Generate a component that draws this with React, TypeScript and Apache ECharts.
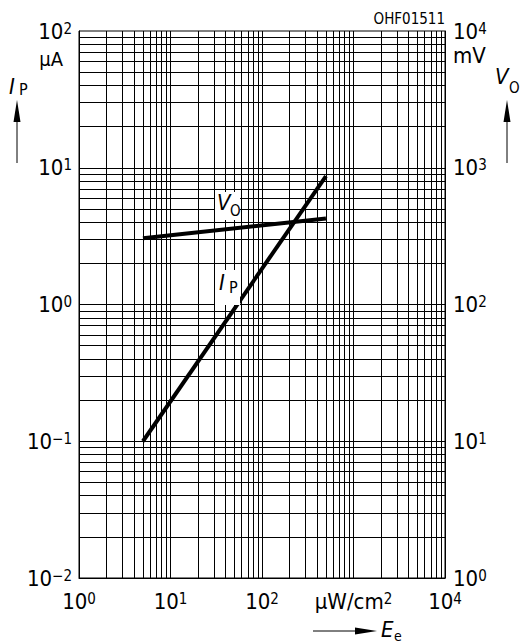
import React, { useEffect, useRef } from "react";
import * as echarts from "echarts";

// ---- data ----
const ipIrradiance = [5, 500]; // µW/cm²
const ipCurrent = [0.1, 8.7]; // µA
const voIrradiance = [5, 500]; // µW/cm²
const voVoltage = [305, 425]; // mV

const xTickValues = [1, 10, 100, 1000, 10000];
const xUnitTick = 1000; // this tick shows the unit instead of a number
const leftTickValues = [0.01, 0.1, 1, 10, 100];
const rightTickValues = [1, 10, 100, 1000, 10000];
const minorMultiples = [2, 3, 4, 5, 6, 7, 8, 9];
const xDecades = [1, 10, 100, 1000];
const yDecades = [0.01, 0.1, 1, 10];

const FONT = '"Liberation Sans Narrow", "DejaVu Sans Condensed", "Liberation Sans", sans-serif';

function expLabel(v: number) {
  const e = Math.round(Math.log10(v));
  const s = e < 0 ? "\u2212" + -e : String(e);
  return `{b|10}{s|${s}}`;
}

const rich = {
  b: { fontFamily: FONT, fontSize: 22, lineHeight: 20, color: "#000" },
  s: { fontFamily: FONT, fontSize: 15, lineHeight: 14, color: "#000", verticalAlign: "top" as const },
  u: { fontFamily: FONT, fontSize: 22, lineHeight: 20, color: "#000" },
};

export default function App() {
  const ref = useRef<HTMLDivElement>(null);
  useEffect(() => {
    if (!ref.current) return;
    const chart = echarts.init(ref.current, null, { renderer: "svg" });

    const xGrid: number[] = [];
    xDecades.forEach((d, i) => {
      if (i > 0) xGrid.push(d);
      minorMultiples.forEach((m) => xGrid.push(d * m));
    });
    const yGrid: number[] = [];
    yDecades.forEach((d, i) => {
      if (i > 0) yGrid.push(d);
      minorMultiples.forEach((m) => yGrid.push(d * m));
    });

    const gridLine = { color: "#000", width: 1, type: "solid" as const };

    const option: any = {
      animation: false,
      backgroundColor: "#fff",
      grid: {
        left: 79,
        right: 75,
        top: 31,
        bottom: 65,
        show: true,
        borderColor: "#000",
        borderWidth: 1,
        containLabel: false,
      },
      xAxis: {
        type: "log",
        logBase: 10,
        min: 1,
        max: 10000,
        axisLine: { show: true, lineStyle: { color: "#000", width: 1 } },
        axisTick: { show: false },
        splitLine: { show: false },
        axisLabel: {
          margin: 13,
          formatter: (v: number) =>
            Math.abs(v - xUnitTick) < 1e-6 ? "{u|\u00b5W/cm}{s|2}" : expLabel(v),
          rich,
        },
      },
      yAxis: [
        {
          type: "log",
          logBase: 10,
          min: 0.01,
          max: 100,
          position: "left",
          axisLine: { show: true, lineStyle: { color: "#000", width: 1 } },
          axisTick: { show: false },
          splitLine: { show: false },
          axisLabel: { margin: 7, formatter: (v: number) => expLabel(v), rich },
        },
        {
          type: "log",
          logBase: 10,
          min: 1,
          max: 10000,
          position: "right",
          axisLine: { show: true, lineStyle: { color: "#000", width: 1 } },
          axisTick: { show: false },
          splitLine: { show: false },
          axisLabel: { margin: 8, formatter: (v: number) => expLabel(v), rich },
        },
      ],
      series: [
        {
          name: "grid",
          type: "line",
          data: [],
          silent: true,
          z: 1,
          markLine: {
            silent: true,
            symbol: ["none", "none"],
            label: { show: false },
            lineStyle: gridLine,
            emphasis: { disabled: true },
            data: [
              ...xGrid.map((v) => ({ xAxis: v })),
              ...yGrid.map((v) => ({ yAxis: v })),
            ],
          },
        },
        {
          name: "IP",
          type: "line",
          yAxisIndex: 0,
          z: 5,
          showSymbol: false,
          symbol: "none",
          lineStyle: { color: "#000", width: 4, cap: "butt" },
          data: ipIrradiance.map((x, i) => [x, ipCurrent[i]]),
        },
        {
          name: "VO",
          type: "line",
          yAxisIndex: 1,
          z: 5,
          showSymbol: false,
          symbol: "none",
          lineStyle: { color: "#000", width: 4, cap: "butt" },
          data: voIrradiance.map((x, i) => [x, voVoltage[i]]),
        },
      ],
      graphic: [
        {
          type: "text",
          x: 445,
          y: 18.5,
          style: { text: "OHF01511", font: `15px ${FONT}`, fill: "#000", align: "right", verticalAlign: "middle" },
        },
        {
          type: "text",
          x: 63,
          y: 59,
          style: { text: "\u00b5A", font: `20px ${FONT}`, fill: "#000", align: "right", verticalAlign: "middle" },
        },
        {
          type: "text",
          x: 453,
          y: 55,
          style: { text: "mV", font: `22px ${FONT}`, fill: "#000", align: "left", verticalAlign: "middle" },
        },
        // left axis name I_P with arrow
        {
          type: "text",
          x: 9,
          y: 86.5,
          style: { text: "I", font: `italic 22px ${FONT}`, fill: "#000", align: "left", verticalAlign: "middle" },
        },
        {
          type: "text",
          x: 19,
          y: 89,
          style: { text: "P", font: `16px ${FONT}`, fill: "#000", align: "left", verticalAlign: "middle" },
        },
        { type: "line", shape: { x1: 17, y1: 120, x2: 17, y2: 163 }, style: { stroke: "#000", lineWidth: 1 } },
        { type: "polygon", shape: { points: [[17, 100], [13.5, 122], [20.5, 122]] }, style: { fill: "#000" } },
        // right axis name V_O with arrow
        {
          type: "text",
          x: 495,
          y: 76,
          style: { text: "V", font: `italic 22px ${FONT}`, fill: "#000", align: "left", verticalAlign: "middle" },
        },
        {
          type: "text",
          x: 509,
          y: 87.5,
          style: { text: "O", font: `15px ${FONT}`, fill: "#000", align: "left", verticalAlign: "middle" },
        },
        { type: "line", shape: { x1: 507, y1: 118, x2: 507, y2: 163 }, style: { stroke: "#000", lineWidth: 1 } },
        { type: "polygon", shape: { points: [[507, 100], [503.5, 122], [510.5, 122]] }, style: { fill: "#000" } },
        // x axis name E_e with arrow
        { type: "line", shape: { x1: 313, y1: 631, x2: 358, y2: 631 }, style: { stroke: "#000", lineWidth: 1 } },
        { type: "polygon", shape: { points: [[377, 631], [355, 627.5], [355, 634.5]] }, style: { fill: "#000" } },
        {
          type: "text",
          x: 381,
          y: 629,
          style: { text: "E", font: `italic 22px ${FONT}`, fill: "#000", align: "left", verticalAlign: "middle" },
        },
        {
          type: "text",
          x: 394,
          y: 636,
          style: { text: "e", font: `14px ${FONT}`, fill: "#000", align: "left", verticalAlign: "middle" },
        },
        // in-plot labels
        { type: "rect", z: 20, shape: { x: 215, y: 192, width: 25, height: 28 }, style: { fill: "#fff" } },
        {
          type: "text",
          z: 21,
          x: 217,
          y: 202.5,
          style: { text: "V", font: `italic 22px ${FONT}`, fill: "#000", align: "left", verticalAlign: "middle" },
        },
        {
          type: "text",
          z: 21,
          x: 230,
          y: 211,
          style: { text: "O", font: `15px ${FONT}`, fill: "#000", align: "left", verticalAlign: "middle" },
        },
        { type: "rect", z: 20, shape: { x: 215, y: 270, width: 25, height: 35 }, style: { fill: "#fff" } },
        {
          type: "text",
          z: 21,
          x: 219,
          y: 282.5,
          style: { text: "I", font: `italic 22px ${FONT}`, fill: "#000", align: "left", verticalAlign: "middle" },
        },
        {
          type: "text",
          z: 21,
          x: 229,
          y: 287,
          style: { text: "P", font: `16px ${FONT}`, fill: "#000", align: "left", verticalAlign: "middle" },
        },
      ],
    };
    chart.setOption(option);
    return () => chart.dispose();
  }, []);
  return (
    <div
      ref={ref}
      style={{ position: "fixed", left: 0, top: 0, width: 520, height: 643, background: "#fff" }}
    />
  );
}
